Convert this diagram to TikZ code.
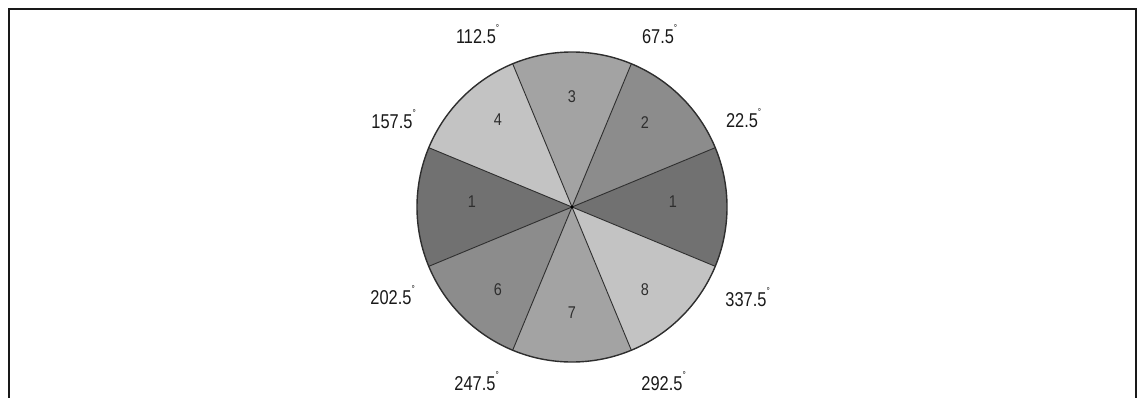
\documentclass[tikz,border=0pt]{standalone}
\usepackage{fontspec}
\setmainfont{Liberation Sans}
\newcommand\dgmark{\rlap{\raisebox{1.1ex}{\fontsize{10}{10}\selectfont °}}}
\definecolor{secA}{HTML}{717171}
\definecolor{secB}{HTML}{8C8C8C}
\definecolor{secC}{HTML}{A3A3A3}
\definecolor{secD}{HTML}{C3C3C3}
\definecolor{edge}{HTML}{2E2E2E}
\begin{document}
\begin{tikzpicture}[x=1pt,y=1pt,
  anglabel/.style={font=\fontsize{20}{20}\selectfont, xscale=.82, text=black!90, inner sep=0pt},
  seclabel/.style={font=\fontsize{17}{17}\selectfont, xscale=.85, text=black!82, inner sep=0pt},
  divider/.style={draw=edge, line width=0.9pt},
  frameline/.style={draw=black!90, line width=2pt}]
\useasboundingbox (0,0) rectangle (1137,397);
% frame (bottom edge cut off)
\draw[frameline] (8.5,-2) -- (8.5,388) -- (1136,388) -- (1136,-2);
\coordinate (c) at (572,190);
\def\R{155}
\begin{scope}[shift={(c)}]
  \fill[secA] (0,0) -- (-22.5:\R) arc (-22.5:22.5:\R) -- cycle;
  \fill[secB] (0,0) -- (22.5:\R) arc (22.5:67.5:\R) -- cycle;
  \fill[secC] (0,0) -- (67.5:\R) arc (67.5:112.5:\R) -- cycle;
  \fill[secD] (0,0) -- (112.5:\R) arc (112.5:157.5:\R) -- cycle;
  \fill[secA] (0,0) -- (157.5:\R) arc (157.5:202.5:\R) -- cycle;
  \fill[secB] (0,0) -- (202.5:\R) arc (202.5:247.5:\R) -- cycle;
  \fill[secC] (0,0) -- (247.5:\R) arc (247.5:292.5:\R) -- cycle;
  \fill[secD] (0,0) -- (292.5:\R) arc (292.5:337.5:\R) -- cycle;
  \foreach \a in {22.5,67.5,112.5,157.5,202.5,247.5,292.5,337.5}
    \draw[divider] (0,0) -- (\a:\R);
  \draw[draw=edge, line width=1.4pt] (0,0) circle (\R);
  \fill[black] (0,0) circle (1.6);
\end{scope}
% sector numbers
\node[seclabel] (s1) at (673,195) {1};
\node[seclabel] (s2) at (645,274) {2};
\node[seclabel] (s3) at (572,300) {3};
\node[seclabel] (s4) at (498,277) {4};
\node[seclabel] (s5) at (472,195) {1};
\node[seclabel] (s6) at (498,107) {6};
\node[seclabel] (s7) at (572,84) {7};
\node[seclabel] (s8) at (645,107) {8};
% angle labels
\node[anglabel] (a1) at (742,279) {22.5\dgmark};
\node[anglabel] (a2) at (658,363) {67.5\dgmark};
\node[anglabel] (a3) at (476,363) {112.5\dgmark};
\node[anglabel] (a4) at (392,278) {157.5\dgmark};
\node[anglabel] (a5) at (391,102) {202.5\dgmark};
\node[anglabel] (a6) at (475,16) {247.5\dgmark};
\node[anglabel] (a7) at (662,16) {292.5\dgmark};
\node[anglabel] (a8) at (746,100) {337.5\dgmark};
\end{tikzpicture}
\end{document}
